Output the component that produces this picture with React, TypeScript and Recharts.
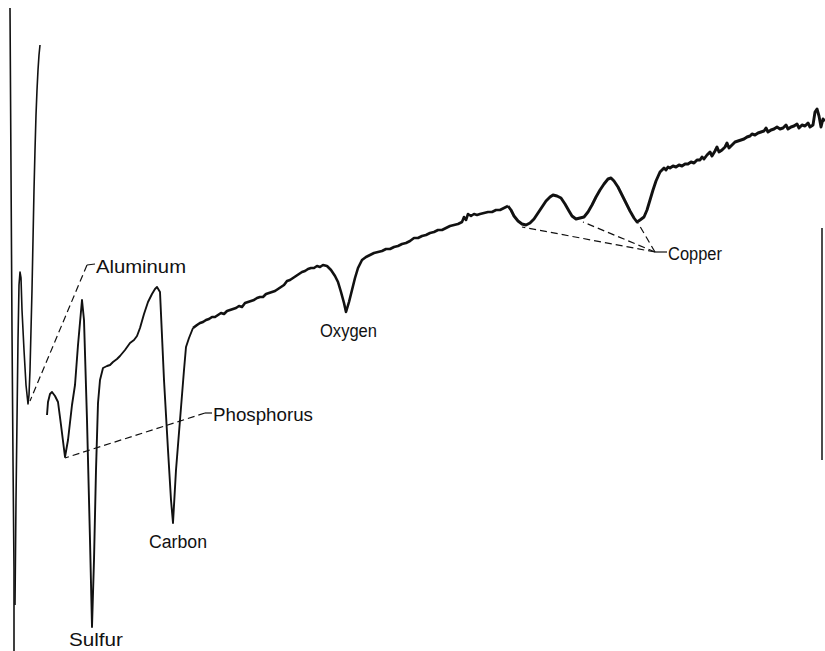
import React from "react";
import {
  LineChart,
  Line,
  XAxis,
  YAxis,
  ReferenceLine,
  ReferenceDot,
} from "recharts";

/* ------------------------------------------------------------------ */
/*  Trace data: [energy (chart units), pen position (units from top)]  */
/* ------------------------------------------------------------------ */

type Pt = [number, number];

// first sweep at the very low-energy end (goes off the paper)
const leftDrop: Pt[] = [
  [10, 8], [11, 170], [12, 330], [13, 460], [14, 570], [14, 651],
];

// aluminum sweep back up
const leftSweep: Pt[] = [
  [15, 605], [16, 500], [17, 420], [18, 340], [19, 285], [20, 272],
  [21, 278], [22, 310], [24, 350], [26, 385], [28, 404], [29, 395],
  [30, 370], [31, 330], [32, 290], [33, 240], [34, 190], [35, 150],
  [36, 115], [37, 90], [38, 70], [39, 55], [40, 45],
];

// phosphorus / sulfur / carbon region
const lowTrace: Pt[] = [
  [47, 415], [48, 402], [50, 394], [52, 392], [55, 396], [58, 402],
  [61, 425], [65, 457], [68, 440], [72, 405], [75, 385], [78, 345],
  [82, 300], [84, 320], [87, 420], [90, 540], [92, 627], [94, 560],
  [96, 470], [98, 403], [100, 380], [103, 368], [107, 366], [110, 365],
  [113, 362], [117, 359], [120, 356], [125, 350], [130, 343], [134, 340],
  [137, 336], [140, 328], [144, 314], [148, 302], [152, 294], [155, 289],
  [157, 287], [160, 292], [164, 380], [168, 450], [171, 500], [173, 523],
  [176, 470], [180, 420], [184, 370], [186, 347], [189, 338], [193, 328],
];

// oxygen region
const midTrace: Pt[] = [
  [193, 328], [197, 325], [200, 323], [203, 322], [206, 320], [209, 319],
  [212, 317], [215, 317], [218, 315], [221, 313], [224, 314], [227, 311],
  [230, 310], [233, 309], [236, 308], [239, 306], [242, 307], [245, 303],
  [248, 302], [251, 301], [254, 300], [257, 298], [260, 297], [263, 297],
  [266, 294], [269, 293], [272, 292], [275, 291], [278, 289], [281, 287],
  [284, 285], [287, 281], [290, 280], [293, 278], [296, 276], [299, 274],
  [302, 272], [305, 271], [308, 269], [311, 268], [314, 268], [317, 266],
  [320, 267], [323, 265], [327, 266], [331, 270], [335, 276], [338, 282],
  [341, 292], [344, 303], [346, 312], [349, 302], [352, 290], [355, 278],
  [358, 268], [362, 260], [366, 257], [370, 255], [374, 253], [378, 252],
  [382, 251], [386, 249], [390, 249], [394, 247], [398, 246], [402, 244],
  [406, 243], [410, 241], [414, 238], [418, 238], [422, 236], [426, 235],
  [430, 233], [434, 232], [438, 230], [442, 230], [446, 228], [450, 226],
  [454, 225], [458, 224], [462, 222], [464, 217], [466, 220], [468, 214],
  [471, 216], [474, 214], [477, 215], [480, 214], [484, 213], [488, 212],
  [492, 212], [496, 210], [500, 210], [504, 208], [508, 206],
];

// copper triplet and high-energy tail
const copperTrace: Pt[] = [
  [508, 206], [511, 210], [514, 216], [518, 221], [522, 224], [526, 225],
  [530, 223], [534, 219], [538, 213], [542, 207], [546, 201], [550, 197],
  [553, 195], [557, 196], [561, 198], [565, 204], [569, 211], [572, 216],
  [576, 219], [580, 218], [584, 217], [588, 212], [592, 205], [596, 197],
  [600, 190], [604, 184], [608, 179], [611, 178], [614, 181], [618, 187],
  [622, 195], [626, 203], [630, 211], [634, 218], [637, 222], [640, 220],
  [644, 217], [647, 210], [650, 200], [653, 190], [656, 181], [660, 172],
  [662, 170], [664, 168], [666, 170], [668, 167], [670, 168], [673, 166],
  [676, 167], [679, 165], [682, 166], [685, 164], [688, 164], [691, 162],
  [694, 163], [697, 160], [700, 160], [702, 157], [704, 159], [707, 155],
  [710, 152], [712, 156], [715, 151], [717, 147], [719, 152], [722, 150],
  [725, 147], [727, 143], [729, 148], [732, 145], [735, 142], [738, 141],
  [741, 140], [744, 139], [747, 137], [750, 136], [752, 134], [755, 135],
  [758, 133], [761, 132], [764, 131], [766, 128], [768, 132], [771, 130],
  [774, 129], [777, 127], [780, 129], [783, 128], [786, 125], [788, 129],
  [791, 127], [794, 126], [797, 124], [799, 128], [802, 125], [805, 126],
  [808, 123], [810, 127], [813, 125], [815, 112], [817, 109], [819, 116],
  [821, 127], [823, 119], [825, 121],
];

// element labels: text, anchor (energy, pen), rendered width
const labelText = ["Aluminum", "Phosphorus", "Sulfur", "Carbon", "Oxygen", "Copper"];
const labelAt: Pt[] = [[96, 273], [213, 421], [69, 646], [149, 548], [320, 337], [668, 260]];
const labelWidth = [90, 100, 54, 58, 57, 54];

// dashed leaders from label to peak
const leaders: [Pt, Pt][] = [
  [[87, 265], [30, 401]],
  [[205, 413], [65, 458]],
  [[655, 252], [522, 227]],
  [[655, 252], [583, 222]],
  [[655, 252], [638, 223]],
];
// short solid ticks in front of labels
const ticks: [Pt, Pt][] = [
  [[87, 265], [95, 264]],
  [[205, 413], [212, 413]],
  [[655, 252], [667, 252]],
];

const toRows = (pts: Pt[]) => pts.map(([e, v]) => ({ e, v }));

const INK = "#111";

export default function App() {
  const lineProps = {
    dataKey: "v",
    stroke: INK,
    dot: false,
    activeDot: false,
    isAnimationActive: false,
    strokeLinejoin: "round" as const,
  };
  return (
    <div style={{ position: "absolute", left: 0, top: 0, background: "#fff" }}>
      <LineChart width={825} height={651} margin={{ top: 0, right: 0, bottom: 0, left: 0 }}>
        <XAxis type="number" dataKey="e" domain={[0, 825]} hide allowDataOverflow />
        <YAxis type="number" dataKey="v" domain={[0, 651]} reversed hide allowDataOverflow />

        <Line {...lineProps} data={toRows(leftDrop)} strokeWidth={1.6} />
        <Line {...lineProps} data={toRows(leftSweep)} strokeWidth={1.6} />
        <Line {...lineProps} data={toRows(lowTrace)} strokeWidth={1.9} />
        <Line {...lineProps} data={toRows(midTrace)} strokeWidth={2.6} />
        <Line {...lineProps} data={toRows(copperTrace)} strokeWidth={2.9} />

        {/* pen return line at the right edge */}
        <ReferenceLine segment={[{ x: 822, y: 228 }, { x: 822, y: 460 }]} stroke={INK} strokeWidth={1.5} ifOverflow="visible" />

        {leaders.map(([a, b], i) => (
          <ReferenceLine
            key={`l${i}`}
            segment={[{ x: a[0], y: a[1] }, { x: b[0], y: b[1] }]}
            stroke={INK}
            strokeWidth={1.2}
            strokeDasharray="7 4"
            ifOverflow="visible"
          />
        ))}
        {ticks.map(([a, b], i) => (
          <ReferenceLine
            key={`t${i}`}
            segment={[{ x: a[0], y: a[1] }, { x: b[0], y: b[1] }]}
            stroke={INK}
            strokeWidth={1.2}
            ifOverflow="visible"
          />
        ))}

        {labelText.map((t, i) => (
          <ReferenceDot
            key={t}
            x={labelAt[i][0]}
            y={labelAt[i][1]}
            r={0}
            ifOverflow="visible"
            shape={(p: any) => (
              <text
                x={p.cx}
                y={p.cy}
                fontSize={18}
                fontFamily="'Liberation Sans', Arial, sans-serif"
                fill={INK}
                textLength={labelWidth[i]}
                lengthAdjust="spacingAndGlyphs"
              >
                {t}
              </text>
            )}
          />
        ))}
      </LineChart>
    </div>
  );
}
